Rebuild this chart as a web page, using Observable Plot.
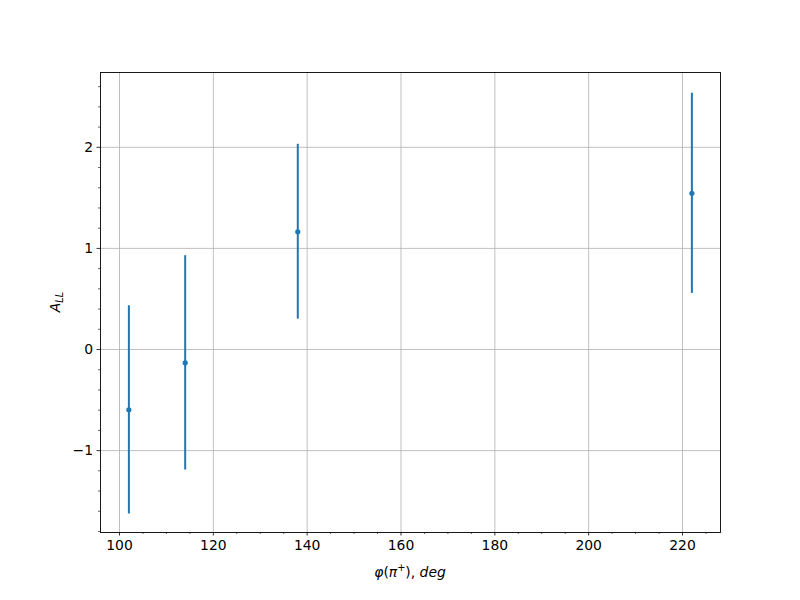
<!DOCTYPE html>
<html>
<head>
<meta charset="utf-8">
<script src="https://cdn.jsdelivr.net/npm/d3@7"></script>
<script src="https://cdn.jsdelivr.net/npm/@observablehq/plot@0.6"></script>
<style>
  html, body { margin: 0; padding: 0; background: #fff; }
  #chart { width: 800px; height: 600px; }
  svg { font-family: "DejaVu Sans", sans-serif; }
</style>
</head>
<body>
<div id="chart"></div>
<script>
// Data
const phi = [102, 114, 138, 222];          // φ(π+), deg
const all = [-0.597, -0.132, 1.165, 1.545]; // A_LL
const err = [1.03, 1.06, 0.865, 0.99];      // symmetric errors

const xMajor = [100, 120, 140, 160, 180, 200, 220];
const xMinor = d3.range(100, 226, 5).filter(v => !xMajor.includes(v));
const yMajor = [-1, 0, 1, 2];
const yMinor = d3.range(-1.8, 2.75, 0.2).map(v => +v.toFixed(1)).filter(v => !yMajor.includes(v));

const data = phi.map((x, i) => ({x, y: all[i], lo: all[i] - err[i], hi: all[i] + err[i]}));

const blue = "#1f77b4";
const fmt = d => d < 0 ? "\u2212" + Math.abs(d) : String(d);

const chart = Plot.plot({
  width: 800,
  height: 600,
  marginLeft: 100,
  marginRight: 80,
  marginTop: 72,
  marginBottom: 68,
  style: {fontFamily: "DejaVu Sans, sans-serif", fontSize: "13.9px", color: "black", background: "white"},
  x: {domain: [95.95, 228.1]},
  y: {domain: [-1.81, 2.74]},
  marks: [
    Plot.gridX(xMajor, {stroke: "#b0b0b0", strokeOpacity: 1, strokeWidth: 0.8}),
    Plot.gridY(yMajor, {stroke: "#b0b0b0", strokeOpacity: 1, strokeWidth: 0.8}),
    Plot.axisX(xMajor, {tickSize: 3.5, tickPadding: 4, tickFormat: fmt, label: null, fontSize: 13.9, stroke: "black", strokeWidth: 0.8}),
    Plot.axisX(xMinor, {tickSize: 2, tickFormat: () => "", label: null, stroke: "black", strokeWidth: 0.6}),
    Plot.axisY(yMajor, {tickSize: 3.5, tickPadding: 4, tickFormat: fmt, label: null, fontSize: 13.9, stroke: "black", strokeWidth: 0.8}),
    Plot.axisY(yMinor, {tickSize: 2, tickFormat: () => "", label: null, stroke: "black", strokeWidth: 0.6}),
    Plot.ruleX(data, {x: "x", y1: "lo", y2: "hi", stroke: blue, strokeWidth: 2}),
    Plot.dot(data, {x: "x", y: "y", r: 2.6, fill: blue, stroke: "none"}),
    Plot.frame({stroke: "black", strokeWidth: 0.9})
  ]
});

document.getElementById("chart").appendChild(chart);

// Axis labels with math-style formatting
const svg = d3.select(chart);
const xl = svg.append("text")
  .attr("x", 410).attr("y", 577)
  .attr("text-anchor", "middle")
  .attr("font-family", "DejaVu Sans, sans-serif")
  .attr("font-size", 13.9)
  .attr("fill", "black");
xl.append("tspan").attr("font-style", "italic").text("φ");
xl.append("tspan").text("(");
xl.append("tspan").attr("font-style", "italic").text("π");
xl.append("tspan").attr("font-size", 9.7).attr("dy", -6).text("+");
xl.append("tspan").attr("dy", 6).text("), ");
xl.append("tspan").attr("font-style", "italic").text("deg");

const yl = svg.append("text")
  .attr("transform", "translate(60,302) rotate(-90)")
  .attr("text-anchor", "middle")
  .attr("font-family", "DejaVu Sans, sans-serif")
  .attr("font-size", 13.9)
  .attr("fill", "black");
yl.append("tspan").attr("font-style", "italic").text("A");
yl.append("tspan").attr("font-style", "italic").attr("font-size", 9.7).attr("dy", 3).text("LL");
</script>
</body>
</html>
